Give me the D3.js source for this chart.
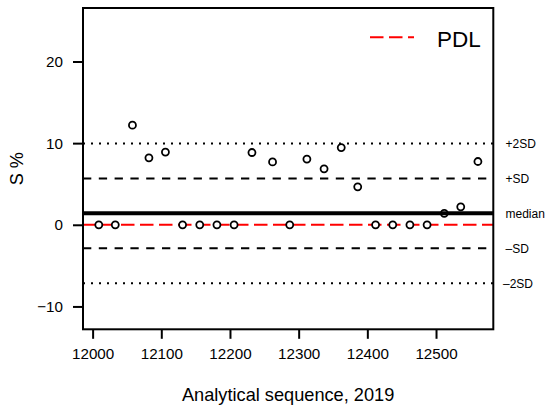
<!DOCTYPE html>
<html>
<head>
<meta charset="utf-8">
<script src="https://cdn.jsdelivr.net/npm/d3@7"></script>
<style>
  html, body { margin: 0; padding: 0; background: #fff; }
  svg { display: block; font-family: "Liberation Sans", Arial, Helvetica, sans-serif; }
</style>
</head>
<body>
<svg id="chart" width="550" height="412"></svg>
<script>
// ---- data ----
const sequence = [12009, 12033, 12058, 12082, 12106, 12131, 12156, 12181, 12206, 12232, 12262, 12287,
                  12312, 12337, 12362, 12386, 12412, 12437, 12462, 12487, 12512, 12536, 12561];
const sPercent = [0, 0, 12.2, 8.2, 8.9, 0, 0, 0, 0, 8.85, 7.7, 0,
                  8.05, 6.85, 9.45, 4.65, 0, 0, 0, 0, 1.4, 2.2, 7.75];
const medianValue = 1.4;
const sdValue = 4.28;
const refLabels = ["+2SD", "+SD", "median", "\u2013SD", "\u20132SD"];
const refMultipliers = [2, 1, 0, -1, -2];
const pdlValue = 0;
const xTicks = [12000, 12100, 12200, 12300, 12400, 12500];
const yTicks = [-10, 0, 10, 20];
const legendLabel = "PDL";
const xTitle = "Analytical sequence, 2019";
const yTitle = "S %";

// ---- layout ----
const L = 83, R = 493.3, T = 8, B = 329.3;
const svg = d3.select("#chart");
const x = d3.scaleLinear().domain([11986, 12583.4]).range([L, R]);
const y = d3.scaleLinear().domain([-12.8, 26.55]).range([B, T]);

const refValues = refMultipliers.map(m => medianValue + m * sdValue);

// reference lines (SD)
const refStyles = { 2: "2 6", 1: "8.3 7.5", "-1": "8.3 7.5", "-2": "2 6" };
refMultipliers.forEach((m, i) => {
  if (m === 0) return;
  svg.append("line")
    .attr("x1", L).attr("x2", R)
    .attr("y1", y(refValues[i])).attr("y2", y(refValues[i]))
    .attr("stroke", "#000").attr("stroke-width", 2)
    .attr("stroke-dasharray", refStyles[m]);
});

// PDL line
svg.append("line")
  .attr("x1", L).attr("x2", R)
  .attr("y1", y(pdlValue)).attr("y2", y(pdlValue))
  .attr("stroke", "#ff0000").attr("stroke-width", 2)
  .attr("stroke-dasharray", "13.5 5.5");

// points
svg.append("g").selectAll("circle")
  .data(sequence.map((s, i) => [s, sPercent[i]]))
  .join("circle")
  .attr("cx", d => x(d[0])).attr("cy", d => y(d[1]))
  .attr("r", 3.5)
  .attr("fill", "#fff").attr("stroke", "#000").attr("stroke-width", 1.8);

// median line
svg.append("line")
  .attr("x1", L).attr("x2", R)
  .attr("y1", y(medianValue)).attr("y2", y(medianValue))
  .attr("stroke", "#000").attr("stroke-width", 4);

// box
svg.append("rect")
  .attr("x", L).attr("y", T).attr("width", R - L).attr("height", B - T)
  .attr("fill", "none").attr("stroke", "#000").attr("stroke-width", 2);

// x axis
const xAxis = svg.append("g").attr("transform", `translate(0,${B})`)
  .call(d3.axisBottom(x).tickValues(xTicks).tickFormat(d3.format("d")).tickSizeOuter(0).tickSize(9.5).tickPadding(9));
xAxis.select(".domain").remove();
xAxis.selectAll(".tick line").attr("stroke", "#000").attr("stroke-width", 2);
xAxis.selectAll(".tick text").attr("font-size", "15.2px").attr("fill", "#000")
  .attr("font-family", '"Liberation Sans", Arial, sans-serif');

// y axis
const yAxis = svg.append("g").attr("transform", `translate(${L},0)`)
  .call(d3.axisLeft(y).tickValues(yTicks).tickFormat(d => d < 0 ? "\u2212" + Math.abs(d) : d).tickSizeOuter(0).tickSize(10).tickPadding(10));
yAxis.select(".domain").remove();
yAxis.selectAll(".tick line").attr("stroke", "#000").attr("stroke-width", 2);
yAxis.selectAll(".tick text").attr("font-size", "15.2px").attr("fill", "#000")
  .attr("font-family", '"Liberation Sans", Arial, sans-serif');

// right labels
refMultipliers.forEach((m, i) => {
  svg.append("text")
    .attr("x", m === -2 ? 503 : 505.5)
    .attr("y", y(refValues[i]))
    .attr("dy", "0.36em")
    .attr("font-size", "12px")
    .text(refLabels[i]);
});

// axis titles
svg.append("text")
  .attr("x", (L + R) / 2).attr("y", 401)
  .attr("text-anchor", "middle").attr("font-size", "18.2px")
  .text(xTitle);
svg.append("text")
  .attr("transform", `translate(23,${(T + B) / 2}) rotate(-90)`)
  .attr("text-anchor", "middle").attr("font-size", "18.2px")
  .text(yTitle);

// legend
svg.append("line")
  .attr("x1", 370).attr("x2", 414).attr("y1", 37.3).attr("y2", 37.3)
  .attr("stroke", "#ff0000").attr("stroke-width", 2)
  .attr("stroke-dasharray", "13.5 5.5");
svg.append("text")
  .attr("x", 437).attr("y", 46.5)
  .attr("font-size", "22.5px")
  .text(legendLabel);
</script>
</body>
</html>
